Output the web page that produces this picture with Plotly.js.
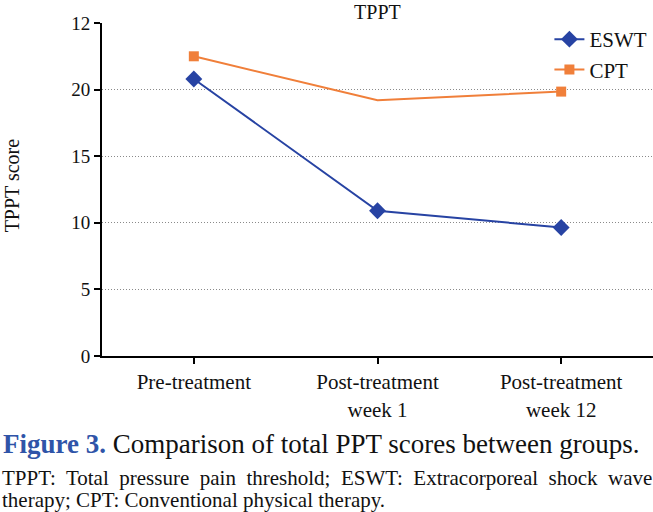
<!DOCTYPE html>
<html>
<head>
<meta charset="utf-8">
<script src="https://cdn.plot.ly/plotly-3.0.1.min.js"></script>
<style>html,body{margin:0;padding:0;background:#fff;} #chart{width:653px;height:512px;}</style>
</head>
<body>
<div id="chart"></div>
<script>
var categories = ['Pre-treatment', 'Post-treatment<br>week 1', 'Post-treatment<br>week 12'];
var eswtValues = [20.8, 10.9, 9.65];
var cptValues = [22.5, 19.2, 19.85];
var cptMarkerColors = ['#f07f3a', 'rgba(0,0,0,0)', '#f07f3a'];
var yTickValues = [0, 5, 10, 15, 20, 25];
var yTickLabels = ['0', '5', '10', '15', '20', '12'];

var serif = "'Liberation Serif', 'Times New Roman', serif";

var traces = [
  {
    x: [0, 1, 2], y: eswtValues, name: 'ESWT', type: 'scatter', mode: 'lines+markers',
    line: {color: '#2743a3', width: 2},
    marker: {symbol: 'diamond', size: 13, color: '#2743a3'}
  },
  {
    x: [0, 1, 2], y: cptValues, name: 'CPT', type: 'scatter', mode: 'lines+markers',
    line: {color: '#f07f3a', width: 2},
    marker: {symbol: 'square', size: 10, color: cptMarkerColors, line: {width: 0}}
  }
];

var layout = {
  width: 653, height: 512,
  margin: {l: 102, r: 0, t: 23, b: 156},
  paper_bgcolor: '#ffffff', plot_bgcolor: '#ffffff',
  font: {family: serif, color: '#111', size: 19},
  title: {text: 'TPPT', x: 0.578, xanchor: 'center', y: 0.99, yanchor: 'top', font: {family: serif, size: 20, color: '#111'}},
  showlegend: true,
  legend: {x: 0.812, y: 1.012, xanchor: 'left', yanchor: 'top', bgcolor: 'rgba(0,0,0,0)', font: {family: serif, size: 21, color: '#111'}, tracegroupgap: 0},
  xaxis: {
    range: [-0.5, 2.5], tickvals: [0, 1, 2], ticktext: categories,
    showline: true, linecolor: '#000', linewidth: 2, ticks: 'outside', ticklen: 6, tickwidth: 2, tickcolor: '#000',
    showgrid: false, zeroline: false, fixedrange: true,
    tickfont: {family: serif, size: 21, color: '#111'}
  },
  yaxis: {
    range: [0, 25], tickvals: yTickValues, ticktext: yTickLabels,
    showline: true, linecolor: '#000', linewidth: 2, ticks: 'outside', ticklen: 6, tickwidth: 2, tickcolor: '#000',
    showgrid: true, gridcolor: '#8a8a8a', gridwidth: 1, griddash: '1px,2px', zeroline: false,
    tickfont: {family: serif, size: 19, color: '#111'}
  },
  annotations: [
    {xref: 'paper', yref: 'paper', x: -0.163, y: 0.513, xanchor: 'center', yanchor: 'middle', showarrow: false, textangle: -90,
     text: 'TPPT score', font: {family: serif, size: 20, color: '#111'}},
    {xref: 'paper', yref: 'paper', x: 0.397, y: -0.265, xanchor: 'center', yanchor: 'middle', showarrow: false,
     text: '<b><span style="color:#2f54a8">Figure 3.</span></b> Comparison of total PPT scores between groups.',
     font: {family: serif, size: 27, color: '#111'}},
    {xref: 'paper', yref: 'paper', x: -0.185, y: -0.366, xanchor: 'left', yanchor: 'middle', showarrow: false,
     text: 'TPPT:  Total  pressure  pain  threshold;  ESWT:  Extracorporeal  shock  wave',
     font: {family: serif, size: 21, color: '#111'}},
    {xref: 'paper', yref: 'paper', x: -0.185, y: -0.432, xanchor: 'left', yanchor: 'middle', showarrow: false,
     text: 'therapy; CPT: Conventional physical therapy.',
     font: {family: serif, size: 21, color: '#111'}}
  ]
};

Plotly.newPlot('chart', traces, layout, {staticPlot: true, displayModeBar: false});
</script>
</body>
</html>
